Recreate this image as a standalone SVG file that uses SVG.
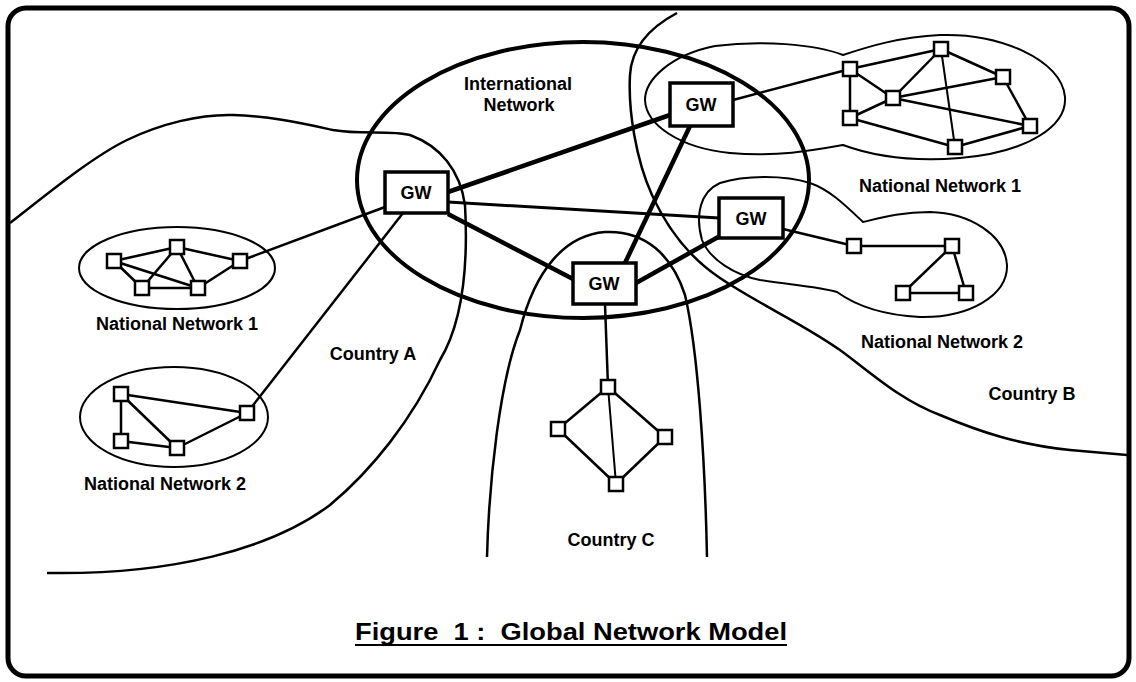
<svg xmlns="http://www.w3.org/2000/svg" width="1136" height="682" viewBox="0 0 1136 682">
<style>
.frame{fill:none;stroke:#000;stroke-width:5}
.bnd{fill:none;stroke:#000;stroke-width:2.5}
.net{fill:none;stroke:#000;stroke-width:2}
.intl{fill:none;stroke:#000;stroke-width:4}
.link{stroke:#000;stroke-width:2.5;fill:none}
.mid{stroke:#000;stroke-width:3;fill:none}
.trunk{stroke:#000;stroke-width:4.5;fill:none}
.gw rect{fill:#fff;stroke:#000;stroke-width:3.5}
.n{fill:#fff;stroke:#000;stroke-width:2.5}
text{font-family:"Liberation Sans",Arial,sans-serif;font-weight:bold;font-size:18px;fill:#000;text-anchor:middle}
.cap{font-size:23px;text-anchor:start}
</style>
<rect width="1136" height="682" fill="#fff"/>
<rect class="frame" x="8" y="8" width="1121" height="668" rx="18"/>

<g id="boundaries">
<path id="country-a-border" class="bnd" d="M10,223 C40,200 90,158 127,140 C160,124 200,114 233,115 C270,116 305,124 333,130 C360,135 390,130 410,135 C440,146 460,170 465,205 C468,260 464,320 440,360 C412,420 372,470 330,505 C270,550 170,575 47,573"/>
<path id="country-c-border" class="bnd" d="M487,557 C489,480 500,380 520,330 C535,270 565,235 605,232 C645,230 672,255 685,295 C698,350 705,460 707,557"/>
<path id="country-b-border" class="bnd" d="M677,13 C660,22 632,40 630,75 C628,110 636,160 652,195 C668,230 690,258 720,278 C760,305 800,322 840,350 C870,372 900,400 940,415 C980,432 1020,445 1070,450 L1127,455"/>
</g>

<g id="intl-network">
<ellipse class="intl" cx="583" cy="180" rx="226" ry="138"/>
<text x="518" y="90">International</text>
<text x="519" y="111">Network</text>
</g>

<g id="nn1-a">
<ellipse class="net" cx="177" cy="268" rx="98" ry="41"/>
<text x="177" y="330">National Network 1</text>
</g>
<g id="nn2-a">
<ellipse class="net" cx="174" cy="417" rx="94" ry="50"/>
<text x="165" y="490">National Network 2</text>
</g>
<g id="nn1-b">
<path class="net" d="M843,55 C815,44 760,40 715,46 C670,55 645,80 645,100 C646,125 680,148 730,153 C780,157 815,150 843,145 C870,155 910,162 960,158 C1030,152 1067,125 1065,97 C1062,60 1000,33 940,35 C900,37 870,46 843,55 Z"/>
<text x="940" y="192">National Network 1</text>
</g>
<g id="nn2-b">
<path class="net" d="M863,222 C845,205 830,190 810,183 C785,175 745,175 720,183 C700,192 695,215 702,240 C710,260 735,275 760,280 C790,285 815,286 837,292 C855,305 880,315 920,317 C970,318 1008,295 1007,265 C1005,235 970,213 930,212 C900,212 880,218 863,222 Z"/>
<text x="942" y="348">National Network 2</text>
</g>

<g id="connectors">
<line class="trunk" x1="448" y1="192" x2="670" y2="115"/>
<line class="trunk" x1="448" y1="214" x2="573" y2="279"/>
<line class="trunk" x1="690" y1="126" x2="625" y2="263"/>
<line class="trunk" x1="636" y1="283" x2="720" y2="236"/>
<line class="mid" x1="448" y1="202" x2="719" y2="218"/>
<line class="link" x1="385" y1="207" x2="240" y2="261"/>
<line class="link" x1="403" y1="213" x2="247" y2="413"/>
<line class="link" x1="733" y1="100" x2="850" y2="69"/>
<line class="link" x1="783" y1="229" x2="854" y2="246"/>
<line class="link" x1="605" y1="304" x2="608" y2="387"/>
<g id="links-nn1-a">
<line class="link" x1="114" y1="261" x2="177" y2="247"/>
<line class="link" x1="177" y1="247" x2="240" y2="261"/>
<line class="link" x1="114" y1="261" x2="142" y2="288"/>
<line class="link" x1="114" y1="261" x2="198" y2="288"/>
<line class="link" x1="177" y1="247" x2="142" y2="288"/>
<line class="link" x1="177" y1="247" x2="198" y2="288"/>
<line class="link" x1="240" y1="261" x2="198" y2="288"/>
<line class="link" x1="142" y1="288" x2="198" y2="288"/>
</g>
<g id="links-nn2-a">
<line class="link" x1="121" y1="394" x2="121" y2="441"/>
<line class="link" x1="121" y1="394" x2="177" y2="448"/>
<line class="link" x1="121" y1="394" x2="247" y2="413"/>
<line class="link" x1="121" y1="441" x2="177" y2="448"/>
<line class="link" x1="177" y1="448" x2="247" y2="413"/>
</g>
<g id="links-nn1-b">
<line class="link" x1="850" y1="69" x2="941" y2="49"/>
<line class="link" x1="850" y1="69" x2="893" y2="98"/>
<line class="link" x1="850" y1="69" x2="850" y2="118"/>
<line class="link" x1="941" y1="49" x2="893" y2="98"/>
<line class="link" x1="941" y1="49" x2="1003" y2="77"/>
<line class="link" x1="941" y1="49" x2="955" y2="147" style="stroke-width:2"/>
<line class="link" x1="893" y1="98" x2="1003" y2="77"/>
<line class="link" x1="893" y1="98" x2="1030" y2="126"/>
<line class="link" x1="893" y1="98" x2="850" y2="118"/>
<line class="link" x1="1003" y1="77" x2="1030" y2="126"/>
<line class="link" x1="850" y1="118" x2="955" y2="147"/>
<line class="link" x1="955" y1="147" x2="1030" y2="126"/>
</g>
<g id="links-nn2-b">
<line class="link" x1="854" y1="246" x2="952" y2="246"/>
<line class="link" x1="952" y1="246" x2="903" y2="293"/>
<line class="link" x1="952" y1="246" x2="966" y2="293"/>
<line class="link" x1="903" y1="293" x2="966" y2="293"/>
</g>
<g id="links-c">
<line class="link" x1="608" y1="387" x2="558" y2="429"/>
<line class="link" x1="608" y1="387" x2="665" y2="437"/>
<line class="link" x1="608" y1="387" x2="616" y2="484" style="stroke-width:2"/>
<line class="link" x1="558" y1="429" x2="616" y2="484"/>
<line class="link" x1="665" y1="437" x2="616" y2="484"/>
</g>
</g>

<g id="gw-a" class="gw"><rect x="385" y="172" width="63" height="41"/><text x="416" y="199">GW</text></g>
<g id="gw-b1" class="gw"><rect x="670" y="83" width="63" height="43"/><text x="701" y="111">GW</text></g>
<g id="gw-b2" class="gw"><rect x="719" y="198" width="64" height="40"/><text x="751" y="225">GW</text></g>
<g id="gw-c" class="gw"><rect x="573" y="263" width="63" height="41"/><text x="604" y="290">GW</text></g>

<g id="nodes-nn1-a">
<rect class="n" x="107" y="254" width="14" height="14"/>
<rect class="n" x="170" y="240" width="14" height="14"/>
<rect class="n" x="233" y="254" width="14" height="14"/>
<rect class="n" x="135" y="281" width="14" height="14"/>
<rect class="n" x="191" y="281" width="14" height="14"/>
</g>
<g id="nodes-nn2-a">
<rect class="n" x="114" y="387" width="14" height="14"/>
<rect class="n" x="114" y="434" width="14" height="14"/>
<rect class="n" x="170" y="441" width="14" height="14"/>
<rect class="n" x="240" y="406" width="14" height="14"/>
</g>
<g id="nodes-nn1-b">
<rect class="n" x="843" y="62" width="14" height="14"/>
<rect class="n" x="934" y="42" width="14" height="14"/>
<rect class="n" x="996" y="70" width="14" height="14"/>
<rect class="n" x="886" y="91" width="14" height="14"/>
<rect class="n" x="843" y="111" width="14" height="14"/>
<rect class="n" x="1023" y="119" width="14" height="14"/>
<rect class="n" x="948" y="140" width="14" height="14"/>
</g>
<g id="nodes-nn2-b">
<rect class="n" x="847" y="239" width="14" height="14"/>
<rect class="n" x="945" y="239" width="14" height="14"/>
<rect class="n" x="896" y="286" width="14" height="14"/>
<rect class="n" x="959" y="286" width="14" height="14"/>
</g>
<g id="nodes-c">
<rect class="n" x="601" y="380" width="14" height="14"/>
<rect class="n" x="551" y="422" width="14" height="14"/>
<rect class="n" x="658" y="430" width="14" height="14"/>
<rect class="n" x="609" y="477" width="14" height="14"/>
</g>

<g id="labels">
<text x="373" y="360">Country A</text>
<text x="1032" y="400">Country B</text>
<text x="611" y="546">Country C</text>
</g>

<g id="caption">
<text class="cap" x="355" y="640" xml:space="preserve" textLength="432" lengthAdjust="spacingAndGlyphs">Figure  1 :  Global Network Model</text>
<line x1="355" y1="645" x2="787" y2="645" stroke="#000" stroke-width="2"/>
</g>
</svg>
